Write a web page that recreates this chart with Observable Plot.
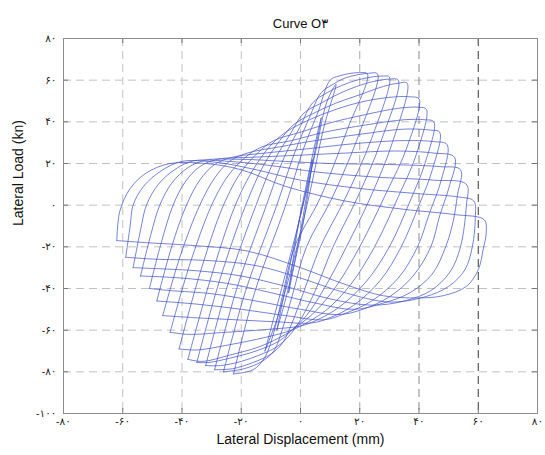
<!DOCTYPE html>
<html>
<head>
<meta charset="utf-8">
<script src="https://cdn.jsdelivr.net/npm/d3@7"></script>
<script src="https://cdn.jsdelivr.net/npm/@observablehq/plot@0.6"></script>
<style>
  html, body { margin: 0; padding: 0; background: #fff; }
</style>
</head>
<body>
<div id="chart"></div>
<script>
// Axis ticks
const displacementTicks = [-80, -60, -40, -20, 0, 20, 40, 60, 80];
const loadTicks = [-100, -80, -60, -40, -20, 0, 20, 40, 60, 80];

// Hysteresis cycles [displacement mm, load kN]: from the negative peak up to the
// positive peak, then back down to the negative peak.
const loop00 = [[-22.6,-81],[-15.5,-42],[-5,0],[1,27],[6,45],[10,60],[13,62],[17,63.3],[20,63.6],[22.6,63],[16,37],[6.5,3],[-2,-20],[-6,-43],[-9,-61],[-12,-73],[-16,-79],[-22.6,-81]];
const loop01 = [[-26,-80],[-18.5,-41],[-8,0],[-2,25],[3,42],[7,54],[11,58],[15,61],[19,62.5],[23,63.3],[26,63],[20,35],[10.5,3],[2,-20],[-2.5,-42],[-6,-59],[-9,-70],[-13,-75],[-19,-78.5],[-26,-80]];
const loop02 = [[-29,-79],[-21.5,-40],[-11.5,0],[-5.5,23],[0,38],[4,49],[9,54],[14,57.5],[19,60],[24,61.5],[28,62],[30,61.5],[24,32],[15,3],[6.7,-20],[1,-42],[-3,-57],[-6,-66],[-10,-71.5],[-16,-75.5],[-23,-78.5],[-29,-79]];
const loop03 = [[-32,-77],[-24.5,-38],[-15,0],[-9,21],[-3.5,34],[1,44],[7,49],[13,53.5],[19,57],[25,59.5],[30,60.5],[33,60],[27,30],[19,3],[11,-20],[5,-41],[0,-55],[-4,-63],[-8,-68],[-14,-72],[-20,-75],[-27,-77],[-32,-77]];
const loop04 = [[-35,-75.5],[-27.5,-37],[-18.5,0],[-12.5,19],[-7,31],[-2,39],[5,44.5],[12,49],[20,53],[28,57],[33,58.5],[36,58.5],[31,30],[24,5],[15.5,-20],[8,-40],[2,-53],[-3,-60],[-7,-65],[-15,-70],[-24,-73.5],[-31,-75.5],[-35,-75.5]];
const loop05 = [[-38,-74],[-30.5,-36],[-22,0],[-16,17],[-10.5,28],[-5,35],[3,41],[12,46],[22,50],[32,52],[37,52],[40,51],[36,28],[29,6],[20,-20],[12,-39],[5,-51],[-1,-58],[-5,-62],[-14,-68],[-24,-72],[-33,-75],[-38,-74]];
const loop06 = [[-41,-69],[-34,-33],[-26,0],[-20,16],[-14.5,25],[-9,31],[0,35],[10,39.5],[22,43.5],[33,46.5],[40,47],[42.5,46],[39,24],[33,4],[25,-20],[17,-38],[9,-50],[2,-56.5],[-3,-60],[-12,-63.5],[-24,-67],[-35,-69.5],[-41,-69]];
const loop07 = [[-44,-61],[-37.5,-29],[-30,0],[-24.5,14],[-19,22.5],[-13,28],[-3,31],[8,35],[22,38.5],[35,41],[42,41],[45,40],[42,20],[37,2],[30,-20],[22,-37],[13,-49],[5,-55.5],[0,-58],[-10,-59.5],[-25,-61],[-38,-62],[-44,-61]];
const loop08 = [[-46.5,-53],[-40.5,-24],[-34,0],[-29,13],[-24,21],[-18,25],[-7,28],[5,31],[20,34],[35,36.5],[44,36],[47,35],[44.5,17],[40,0],[34,-20],[27,-36],[18,-48],[10,-54],[4,-56.5],[-8,-56],[-22,-55],[-36,-54],[-46.5,-53]];
const loop09 = [[-48.5,-46],[-43.5,-20],[-38.5,0],[-34,12],[-29,19.5],[-23,23],[-12,25],[2,27],[18,29.5],[35,31],[45,30.5],[49.5,29],[47.5,12],[43.5,-4],[39.5,-20],[33,-35],[24,-46],[15,-52],[8,-55],[-5,-53],[-20,-50],[-35,-47.5],[-48.5,-46]];
const loop10 = [[-51,-40],[-47,-18],[-43,0],[-39,11],[-34,18.5],[-28,22],[-16,23],[0,24],[15,25],[32,26],[45,25],[52,23],[50,8],[47,-5],[44,-20],[38,-34],[30,-44],[21,-50],[13,-52.5],[0,-50],[-15,-46],[-30,-42.5],[-44,-41],[-51,-40]];
const loop11 = [[-54,-34],[-50.5,-14],[-47.5,0],[-43.5,10.5],[-38,18],[-32,21.6],[-20,22],[-5,21],[10,20],[30,19.5],[47,18.5],[54,17],[53,5],[51.5,-8],[49,-20],[44.5,-33],[37,-42],[28,-47],[18,-50],[5,-47],[-10,-42],[-25,-37.5],[-40,-35],[-54,-34]];
const loop12 = [[-56.5,-30],[-54,-12],[-52,0],[-48,10],[-42,17.5],[-36,21.3],[-24,21],[-10,19],[5,16],[25,13.5],[45,12],[56,10],[56,0],[54,-20],[50.5,-32],[44,-41],[35,-46],[24,-48],[10,-45],[-5,-39],[-20,-34],[-35,-31.5],[-48,-30.5],[-56.5,-30]];
const loop13 = [[-59,-25],[-57.5,-10],[-56.5,0],[-53,9],[-47,16.5],[-40,21],[-28,20.5],[-15,17],[0,12],[20,8],[40,5.5],[53,4],[58.5,2],[59,-6],[58,-20],[55.5,-31],[50,-39],[42,-44],[30,-46.5],[15,-42],[0,-35],[-15,-29],[-32,-26.5],[-48,-26],[-59,-25]];
const loop14 = [[-62,-17],[-61,-3],[-57.5,8],[-52,15.5],[-44,20],[-32,20],[-20,17],[-5,9],[15,2],[35,-2],[52,-4.5],[62,-7],[62.7,-13],[61.7,-21],[60,-31],[56,-39],[48,-43.5],[40,-44.5],[28,-43.5],[15,-38],[0,-30],[-18,-22],[-35,-19.5],[-52,-18],[-62,-17]];

// Early small-amplitude cycles along the elastic branch
const early1 = [[-4,-42],[-1,-12],[2,8],[4,22],[1,-8],[-2,-28],[-4,-42]];
const early2 = [[-8,-60],[-3,-25],[2,10],[5,30],[7,42],[3,12],[-1,-20],[-5,-45],[-8,-60]];
const early3 = [[-12,-70],[-6,-38],[0,-5],[5,25],[9,50],[12,58],[8,38],[3,5],[-3,-30],[-8,-55],[-12,-70]];

const cycles = [early1, early2, early3, loop00, loop01, loop02, loop03, loop04, loop05,
  loop06, loop07, loop08, loop09, loop10, loop11, loop12, loop13, loop14];
const rows = cycles.flatMap((pts, i) => pts.map(([x, y]) => ({cycle: i, x, y})));

// Persian digits for tick labels
const persianDigits = "۰۱۲۳۴۵۶۷۸۹";
const toPersian = v => String(v).replace(/\d/g, d => persianDigits[+d]);

const innerX = displacementTicks.slice(1, -1);
const innerY = loadTicks.slice(1, -1);

const chart = Plot.plot({
  width: 545,
  height: 455,
  marginLeft: 63,
  marginRight: 8,
  marginTop: 38,
  marginBottom: 42,
  style: {fontFamily: "'Liberation Sans', Arial, 'DejaVu Sans', sans-serif", background: "#fff"},
  x: {domain: [-80, 80]},
  y: {domain: [-100, 80]},
  marks: [
    // dashed grid
    Plot.ruleY(innerY, {y: d => d, stroke: "#c2c2c2", strokeDasharray: "8,5", strokeWidth: 1}),
    Plot.ruleX(innerX.filter(d => d < 20), {x: d => d, stroke: "#c2c2c2", strokeDasharray: "8,5", strokeWidth: 1}),
    Plot.ruleX(innerX.filter(d => d === 20), {x: d => d, stroke: "#a8a8a8", strokeDasharray: "8,5", strokeWidth: 1}),
    Plot.ruleX(innerX.filter(d => d === 40), {x: d => d, stroke: "#8a8a8a", strokeDasharray: "8,5", strokeWidth: 1}),
    Plot.ruleX(innerX.filter(d => d === 60), {x: d => d, stroke: "#3a3a3a", strokeDasharray: "8,5", strokeWidth: 1}),
    // inner tick marks on the frame
    Plot.tickX(displacementTicks, {x: d => d, insetTop: 370, stroke: "#777"}),
    Plot.tickX(displacementTicks, {x: d => d, insetBottom: 370, stroke: "#777"}),
    Plot.tickY(loadTicks, {y: d => d, insetRight: 469, stroke: "#777"}),
    Plot.tickY(loadTicks, {y: d => d, insetLeft: 469, stroke: "#777"}),
    Plot.frame({stroke: "#8c8c8c"}),
    // load–displacement loops
    Plot.line(rows, {
      x: "x", y: "y", z: "cycle",
      curve: "catmull-rom",
      stroke: "#4152cc",
      strokeWidth: 0.85,
      strokeOpacity: 0.85
    }),
    Plot.axisX(displacementTicks, {anchor: "bottom", tickSize: 0, tickPadding: 4, tickFormat: toPersian, fontSize: 10.5, fill: "#222", label: null}),
    Plot.axisY(loadTicks, {anchor: "left", tickSize: 0, tickPadding: 7, tickFormat: toPersian, fontSize: 10.5, fill: "#222", label: null}),
    Plot.text(["Lateral Displacement (mm)"], {frameAnchor: "bottom", dy: 30, fontSize: 14, fill: "#111"}),
    Plot.text(["Lateral Load (kn)"], {frameAnchor: "left", dx: -45, rotate: -90, fontSize: 14, fill: "#111"}),
    Plot.text(["Curve O۳"], {frameAnchor: "top", dy: -20, fontSize: 13, fill: "#111"})
  ]
});

document.getElementById("chart").append(chart);
</script>
</body>
</html>
